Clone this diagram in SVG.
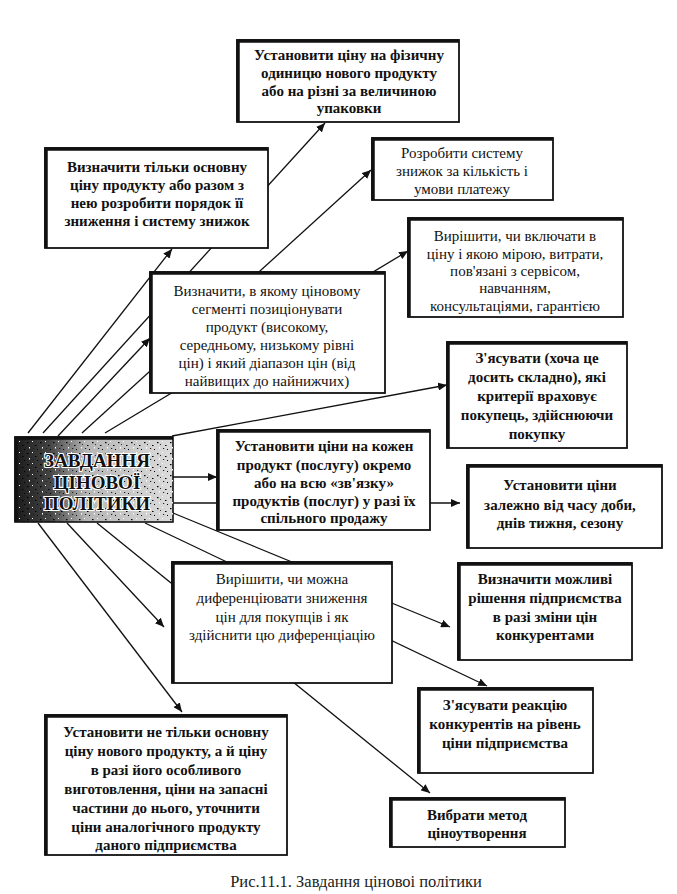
<svg xmlns="http://www.w3.org/2000/svg" width="677" height="894" viewBox="0 0 677 894">
<style>
.box{fill:#fff;stroke:#111;stroke-width:1.8}
.edge{fill:none;stroke:#111;stroke-width:3.5}
.t{font-family:"Liberation Serif","DejaVu Serif",serif;font-size:15px;font-weight:bold;fill:#111;text-anchor:middle}
.r{font-weight:normal}
.c{fill:none;stroke:#111;stroke-width:1.3}
.cap{font-family:"Liberation Serif","DejaVu Serif",serif;font-size:16.5px;fill:#222;text-anchor:middle}
.gt{font-family:"Liberation Serif","DejaVu Serif",serif;font-size:19px;font-weight:bold;fill:#111;text-anchor:middle;stroke:#fff;stroke-width:2.2;paint-order:stroke}
</style>
<defs>
<marker id="ah" markerUnits="userSpaceOnUse" markerWidth="10" markerHeight="8" refX="9" refY="4" orient="auto">
<path d="M0,0 L9,4 L0,8 Z" fill="#111"/>
</marker>
<linearGradient id="gg" x1="0" y1="0" x2="1" y2="0">
<stop offset="0" stop-color="#1a1a1a"/>
<stop offset="0.22" stop-color="#444"/>
<stop offset="0.45" stop-color="#b5b5b5"/>
<stop offset="1" stop-color="#dcdcdc"/>
</linearGradient>
<pattern id="noise" width="13" height="11" patternUnits="userSpaceOnUse">
<rect x="1" y="2" width="1.5" height="1.2" fill="#000"/>
<rect x="6" y="1" width="1" height="1" fill="#fff"/>
<rect x="9" y="5" width="1.5" height="1" fill="#000"/>
<rect x="3" y="7" width="1" height="1.5" fill="#fff"/>
<rect x="11" y="9" width="1" height="1" fill="#000"/>
<rect x="7" y="8" width="1.2" height="1" fill="#222"/>
<rect x="4" y="4" width="1" height="1" fill="#333"/>
</pattern>
</defs>

<g id="connectors">
<line class="c" x1="28" y1="433" x2="172" y2="249" marker-end="url(#ah)"/>
<line class="c" x1="43" y1="433" x2="325" y2="123" marker-end="url(#ah)"/>
<line class="c" x1="58" y1="436" x2="150" y2="338" marker-end="url(#ah)"/>
<line class="c" x1="82" y1="433" x2="371" y2="170" marker-end="url(#ah)"/>
<line class="c" x1="105" y1="433" x2="408" y2="251" marker-end="url(#ah)"/>
<line class="c" x1="172" y1="436" x2="447" y2="385" marker-end="url(#ah)"/>
<line class="c" x1="173" y1="477" x2="217" y2="477" marker-end="url(#ah)"/>
<line class="c" x1="173" y1="503" x2="460" y2="503" marker-end="url(#ah)"/>
<line class="c" x1="173" y1="513" x2="450" y2="627" marker-end="url(#ah)"/>
<line class="c" x1="145" y1="523" x2="487" y2="686" marker-end="url(#ah)"/>
<line class="c" x1="97" y1="523" x2="430" y2="793" marker-end="url(#ah)"/>
<line class="c" x1="67" y1="523" x2="164" y2="627" marker-end="url(#ah)"/>
<line class="c" x1="38" y1="523" x2="182" y2="712" marker-end="url(#ah)"/>
</g>

<g id="nodeA">
<rect class="box" x="237" y="40" width="222" height="82"/>
<path class="edge" d="M238,122 V41 H459"/>
<text class="t" x="349" y="60">Установити ціну на фізичну</text>
<text class="t" x="349" y="78">одиницю нового продукту</text>
<text class="t" x="349" y="96">або на різні за величиною</text>
<text class="t" x="349" y="113">упаковки</text>
</g>

<g id="nodeB">
<rect class="box" x="45" y="148" width="223" height="100"/>
<path class="edge" d="M46,248 V149 H268"/>
<text class="t" x="157" y="172">Визначити тільки основну</text>
<text class="t" x="157" y="190">ціну продукту або разом з</text>
<text class="t" x="157" y="208">нею розробити порядок її</text>
<text class="t" x="157" y="226">зниження і систему знижок</text>
</g>

<g id="nodeC">
<rect class="box" x="372" y="138" width="181" height="62"/>
<path class="edge" d="M373,200 V139 H553"/>
<text class="t r" x="462" y="158">Розробити систему</text>
<text class="t r" x="462" y="176">знижок за кількість і</text>
<text class="t r" x="462" y="194">умови платежу</text>
</g>

<g id="nodeD">
<rect class="box" x="408" y="218" width="215" height="99"/>
<path class="edge" d="M409,317 V219 H623"/>
<text class="t r" x="515" y="241">Вирішити, чи включати в</text>
<text class="t r" x="515" y="259">ціну і якою мірою, витрати,</text>
<text class="t r" x="515" y="276">пов'язані з сервісом,</text>
<text class="t r" x="515" y="293">навчанням,</text>
<text class="t r" x="515" y="311">консультаціями, гарантією</text>
</g>

<g id="nodeE">
<rect class="box" x="150" y="272" width="235" height="121"/>
<path class="edge" d="M151,393 V273 H385"/>
<text class="t r" x="267" y="296">Визначити, в якому ціновому</text>
<text class="t r" x="267" y="314">сегменті позиціонувати</text>
<text class="t r" x="267" y="332">продукт (високому,</text>
<text class="t r" x="267" y="350">середньому, низькому рівні</text>
<text class="t r" x="267" y="368">цін) і який діапазон цін (від</text>
<text class="t r" x="267" y="386">найвищих до найнижчих)</text>
</g>

<g id="nodeF">
<rect class="box" x="447" y="342" width="180" height="106"/>
<path class="edge" d="M448,448 V343 H627"/>
<text class="t" x="537" y="363">З'ясувати (хоча це</text>
<text class="t" x="537" y="382">досить складно), які</text>
<text class="t" x="537" y="401">критерії враховує</text>
<text class="t" x="537" y="420">покупець, здійснюючи</text>
<text class="t" x="537" y="439">покупку</text>
</g>

<g id="nodeG">
<rect x="15" y="437" width="158" height="85" fill="url(#gg)" stroke="#111" stroke-width="1.6"/>
<rect x="15" y="437" width="158" height="85" fill="url(#noise)"/>
<path class="edge" d="M16,522 V438 H173"/>
<text class="gt" x="97" y="467">ЗАВДАННЯ</text>
<text class="gt" x="97" y="489">ЦІНОВОЇ</text>
<text class="gt" x="97" y="510">ПОЛІТИКИ</text>
</g>

<g id="nodeH">
<rect class="box" x="217" y="430" width="213" height="100"/>
<path class="edge" d="M218,530 V431 H430"/>
<text class="t" x="324" y="451">Установити ціни на кожен</text>
<text class="t" x="324" y="470">продукт (послугу) окремо</text>
<text class="t" x="324" y="488">або на всю «зв'язку»</text>
<text class="t" x="324" y="506">продуктів (послуг) у разі їх</text>
<text class="t" x="324" y="523">спільного продажу</text>
</g>

<g id="nodeI">
<rect class="box" x="467" y="465" width="195" height="83"/>
<path class="edge" d="M468,548 V466 H662"/>
<text class="t" x="560" y="490">Установити  ціни</text>
<text class="t" x="560" y="510">залежно від часу  доби,</text>
<text class="t" x="560" y="528">днів тижня, сезону</text>
</g>

<g id="nodeJ">
<rect class="box" x="172" y="562" width="220" height="121"/>
<path class="edge" d="M173,683 V563 H392"/>
<text class="t r" x="282" y="584">Вирішити, чи можна</text>
<text class="t r" x="282" y="603">диференціювати зниження</text>
<text class="t r" x="282" y="622">цін для покупців і як</text>
<text class="t r" x="282" y="640">здійснити цю диференціацію</text>
</g>

<g id="nodeK">
<rect class="box" x="458" y="563" width="174" height="97"/>
<path class="edge" d="M459,660 V564 H632"/>
<text class="t" x="545" y="584">Визначити можливі</text>
<text class="t" x="545" y="603">рішення підприємства</text>
<text class="t" x="545" y="622">в разі зміни цін</text>
<text class="t" x="545" y="640">конкурентами</text>
</g>

<g id="nodeL">
<rect class="box" x="418" y="688" width="175" height="85"/>
<path class="edge" d="M419,773 V689 H593"/>
<text class="t" x="505" y="710">З'ясувати реакцію</text>
<text class="t" x="505" y="729">конкурентів на рівень</text>
<text class="t" x="505" y="748">ціни підприємства</text>
</g>

<g id="nodeM">
<rect class="box" x="390" y="798" width="175" height="49"/>
<path class="edge" d="M391,847 V799 H565"/>
<text class="t" x="477" y="820">Вибрати метод</text>
<text class="t" x="477" y="838">ціноутворення</text>
</g>

<g id="nodeN">
<rect class="box" x="45" y="715" width="242" height="140"/>
<path class="edge" d="M46,855 V716 H287"/>
<text class="t" x="166" y="737">Установити не тільки основну</text>
<text class="t" x="166" y="756">ціну нового продукту, а й ціну</text>
<text class="t" x="166" y="775">в разі його особливого</text>
<text class="t" x="166" y="794">виготовлення, ціни на запасні</text>
<text class="t" x="166" y="813">частини до нього,  уточнити</text>
<text class="t" x="166" y="832">ціни аналогічного продукту</text>
<text class="t" x="166" y="850">даного підприємства</text>
</g>

<text class="cap" x="356" y="887">Рис.11.1. Завдання ціновоі політики</text>
</svg>
